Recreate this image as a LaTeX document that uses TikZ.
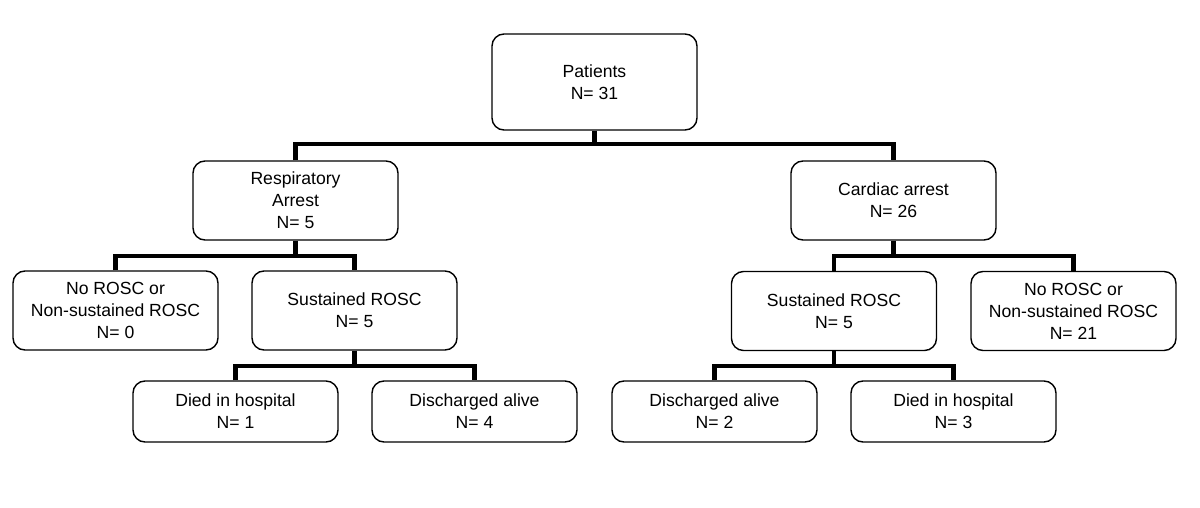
\documentclass[tikz,border=0pt]{standalone}
\usepackage{fontspec}
\setmainfont{Liberation Sans}
\begin{document}
\begin{tikzpicture}[x=1pt,y=-1pt,
  box/.style={draw=black,line width=1.4pt,rounded corners=12pt,align=center,
    minimum width=205pt,inner sep=2pt,font=\fontsize{17.6}{22}\selectfont},
  conn/.style={draw=black,line width=4.6pt,line join=miter}]
\useasboundingbox[fill=white] (0,0) rectangle (1200,508);
\node[box,minimum height=96pt] (pat) at (594.5,82) {Patients\\N= 31};
\node[box,minimum height=79pt] (resp) at (295.5,200.5) {Respiratory\\Arrest\\N= 5};
\node[box,minimum height=79pt] (card) at (893.5,200.5) {Cardiac arrest\\N= 26};
\node[box,minimum height=79pt] (nol) at (115.5,310.5) {No ROSC or\\Non-sustained ROSC\\N= 0};
\node[box,minimum height=79pt] (sl) at (354.5,310.5) {Sustained ROSC\\N= 5};
\node[box,minimum height=79pt] (sr) at (834,311) {Sustained ROSC\\N= 5};
\node[box,minimum height=79pt] (nor) at (1073.5,311) {No ROSC or\\Non-sustained ROSC\\N= 21};
\node[box,minimum height=61pt] (dl) at (235.5,411.5) {Died in hospital\\N= 1};
\node[box,minimum height=61pt] (al) at (474.5,411.5) {Discharged alive\\N= 4};
\node[box,minimum height=61pt] (ar) at (714.5,411.5) {Discharged alive\\N= 2};
\node[box,minimum height=61pt] (dr) at (953.5,411.5) {Died in hospital\\N= 3};
% level 1
\draw[conn] (pat.south) -- (pat.south |- 0,144);
\draw[conn] (resp.north) |- (card.north |- 0,144) -- (card.north);
% level 2
\draw[conn] (resp.south) -- (resp.south |- 0,256);
\draw[conn] (nol.north) |- (sl.north |- 0,256) -- (sl.north);
\draw[conn] (card.south) -- (card.south |- 0,256);
\draw[conn] (sr.north) |- (nor.north |- 0,256) -- (nor.north);
% level 3
\draw[conn] (sl.south) -- (sl.south |- 0,366);
\draw[conn] (dl.north) |- (al.north |- 0,366) -- (al.north);
\draw[conn] (sr.south) -- (sr.south |- 0,366);
\draw[conn] (ar.north) |- (dr.north |- 0,366) -- (dr.north);
\end{tikzpicture}
\end{document}
